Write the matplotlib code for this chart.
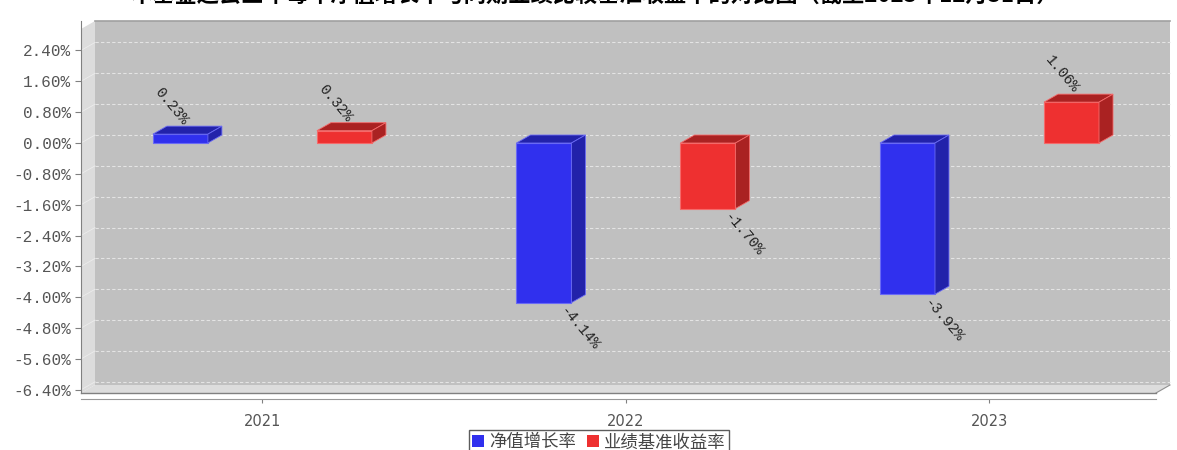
import matplotlib.pyplot as plt
from matplotlib.patches import Polygon, Rectangle, Patch
from matplotlib.ticker import FuncFormatter

plt.rcParams['font.family'] = ['Noto Sans CJK SC', 'DejaVu Sans']

# data
years = ['2021', '2022', '2023']
nav_growth = [0.23, -4.14, -3.92]      # 净值增长率 (%)
benchmark = [0.32, -1.70, 1.06]        # 业绩基准收益率 (%)
series_names = ['净值增长率', '业绩基准收益率']
title = '本基金过去三年每年净值增长率与同期业绩比较基准收益率的对比图（截至2023年12月31日）'
yticks = [2.4, 1.6, 0.8, 0.0, -0.8, -1.6, -2.4, -3.2, -4.0, -4.8, -5.6, -6.4]

W, H = 1177, 450
# front plane of the plot in pixels
L, R, T, B = 81, 1156, 21, 393
DX, DY = 14, 8   # 3d depth in px

xmin, xmax = -0.499, 2.458
ymin, ymax = -6.483, 3.164
sx = (xmax - xmin) / (R - L)
sy = (ymax - ymin) / (B - T)
dx, dy = DX * sx, DY * sy

fig = plt.figure(figsize=(W / 100, H / 100), dpi=100)
ax = fig.add_axes([L / W, 1 - B / H, (R - L) / W, (B - T) / H])
ax.set_xlim(xmin, xmax)
ax.set_ylim(ymin, ymax)
ax.patch.set_visible(False)

# walls
ax.add_patch(Rectangle((xmin + dx, ymin + dy), xmax - xmin, ymax - ymin - dy,
                       facecolor='#c0c0c0', edgecolor='none', zorder=0, clip_on=False))
ax.plot([xmin + dx, xmax + dx], [ymax, ymax], color='#a0a0a0', lw=1.2, zorder=1, clip_on=False)
ax.add_patch(Polygon([(xmin, ymin), (xmin, ymax - dy), (xmin + dx, ymax), (xmin + dx, ymin + dy)],
                     facecolor='#dcdcdc', edgecolor='none', zorder=0.5, clip_on=False))
ax.add_patch(Polygon([(xmin, ymin), (xmin + dx, ymin + dy), (xmax + dx, ymin + dy), (xmax, ymin)],
                     facecolor='#dcdcdc', edgecolor='none', zorder=0.5, clip_on=False))
ax.plot([xmax, xmax + dx], [ymin, ymin + dy], color='#909090', lw=0.8, zorder=1, clip_on=False)
ax.plot([xmin, xmax], [ymin, ymin], color='#808080', lw=1.0, zorder=1, clip_on=False)

for t in yticks:
    ax.plot([xmin + dx, xmax + dx], [t + dy, t + dy], color='#e4e4e4', lw=0.8,
            ls=(0, (3, 2)), zorder=1, clip_on=False)
    ax.plot([xmin, xmin + dx], [t, t + dy], color='#ececec', lw=0.6, zorder=1, clip_on=False)

# bars
bw = 55 / 363.5
off = 82 / 363.5
colors = [('#3030ee', '#2222aa', '#6a6af5'), ('#ee3030', '#aa2222', '#f56a6a')]
for si, vals in enumerate([nav_growth, benchmark]):
    front, dark, edge = colors[si]
    for i, v in enumerate(vals):
        c = i + (off if si else -off)
        x0, x1 = c - bw / 2, c + bw / 2
        lo, hi = min(0, v), max(0, v)
        ax.add_patch(Rectangle((x0, lo), bw, hi - lo, facecolor=front, edgecolor=edge, lw=0.8, zorder=3))
        ax.add_patch(Polygon([(x0, hi), (x0 + dx, hi + dy), (x1 + dx, hi + dy), (x1, hi)],
                             facecolor=dark, edgecolor=edge, lw=0.6, zorder=3))
        ax.add_patch(Polygon([(x1, lo), (x1 + dx, lo + dy), (x1 + dx, hi + dy), (x1, hi)],
                             facecolor=dark, edgecolor=edge, lw=0.6, zorder=3))
        lab = f'{v:.2f}%'
        if v >= 0:
            ax.annotate(lab, (c, v), xytext=(5, 11), textcoords='offset pixels',
                        rotation=-50, rotation_mode='anchor', ha='right', va='center',
                        fontsize=10.5, family='Liberation Mono', color='#222222', zorder=5,
                        annotation_clip=False)
        else:
            ax.annotate(lab, (c, v), xytext=(19, -6), textcoords='offset pixels',
                        rotation=-50, rotation_mode='anchor', ha='left', va='center',
                        fontsize=10.5, family='Liberation Mono', color='#222222', zorder=5,
                        annotation_clip=False)

# axes styling
for s in ['top', 'right']:
    ax.spines[s].set_visible(False)
ax.spines['left'].set_color('#808080')
ax.spines['bottom'].set_color('#999999')
ax.spines['bottom'].set_position(('outward', 4))
ax.set_yticks(yticks)
ax.yaxis.set_major_formatter(FuncFormatter(lambda v, p: f'{v:.2f}%'))
ax.set_xticks(range(len(years)))
ax.set_xticklabels(years)
ax.tick_params(axis='y', length=4, color='#808080', labelcolor='#555555', pad=3)
ax.tick_params(axis='x', length=3, color='#808080', labelcolor='#555555', pad=8)
for lbl in ax.get_yticklabels():
    lbl.set_family('Liberation Mono')
    lbl.set_fontsize(11.5)
for lbl in ax.get_xticklabels():
    lbl.set_family('DejaVu Sans')
    lbl.set_fontsize(10.5)

fig.text(595 / W, 1 - 2 / H, title, ha='center', va='baseline', fontsize=16,
         fontweight='bold', color='black')

handles = [Patch(facecolor='#3030ee', edgecolor='none'), Patch(facecolor='#ee3030', edgecolor='none')]
leg = fig.legend(handles, series_names, loc='upper center', bbox_to_anchor=(599 / W, 1 - 430 / H),
                 ncol=2, fontsize=12.5, frameon=True, fancybox=False, handlelength=0.7,
                 handleheight=0.7, handletextpad=0.3, columnspacing=0.6, borderpad=0.2,
                 borderaxespad=0)
leg.get_frame().set_edgecolor('#333333')
leg.get_frame().set_linewidth(1.0)
for txt in leg.get_texts():
    txt.set_color('#444444')

fig.savefig('out.png', dpi=100)
